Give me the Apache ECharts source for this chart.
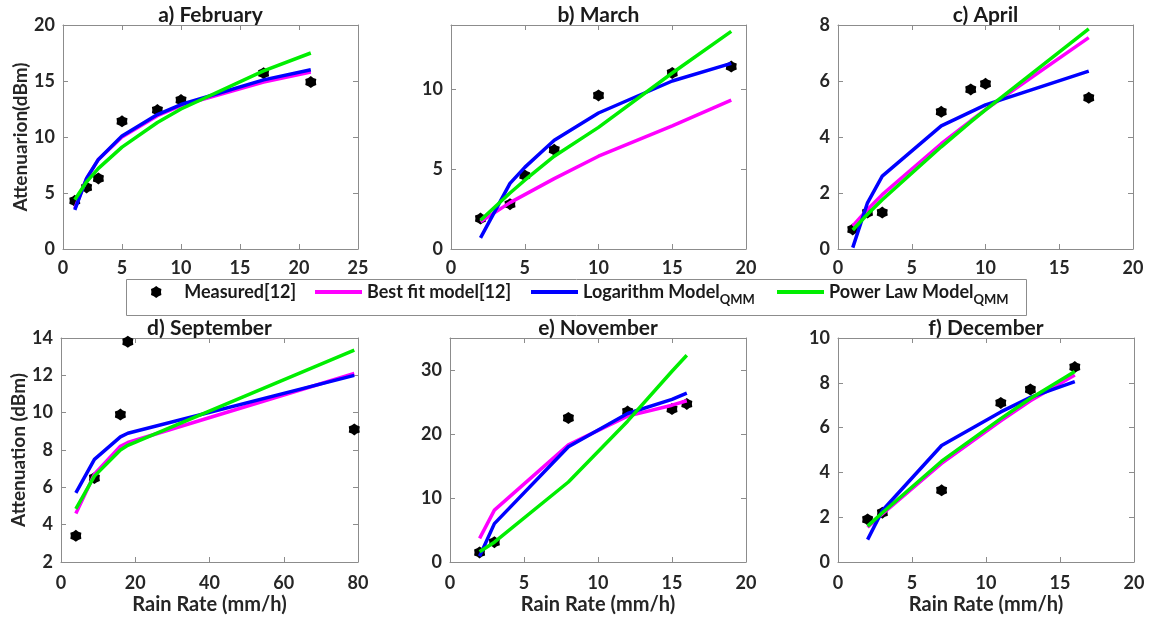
<!DOCTYPE html>
<html>
<head>
<meta charset="utf-8">
<script src="https://cdn.jsdelivr.net/npm/echarts@6/dist/echarts.min.js"></script>
<style>
  html, body { margin: 0; padding: 0; background: #ffffff; }
  #chart { width: 1150px; height: 620px; }
</style>
</head>
<body>
<div id="chart"></div>
<script>
// Rain rate (mm/h) and attenuation (dBm) per month
const febRain     = [1, 2, 3, 5, 8, 10, 17, 21];
const febMeasured = [4.3, 5.5, 6.3, 11.4, 12.4, 13.3, 15.7, 14.9];
const febBestFit  = [3.6, 6.3, 8.0, 10.0, 11.9, 12.8, 14.9, 15.8];
const febLog      = [3.5, 6.3, 8.0, 10.1, 12.0, 12.9, 15.1, 16.0];
const febPower    = [4.4, 6.0, 7.2, 9.1, 11.3, 12.5, 15.9, 17.5];

const marRain     = [2, 4, 5, 7, 10, 15, 19];
const marMeasured = [1.9, 2.8, 4.6, 6.2, 9.6, 11.0, 11.4];
const marBestFit  = [1.7, 2.9, 3.4, 4.4, 5.8, 7.7, 9.3];
const marLog      = [0.7, 4.1, 5.1, 6.8, 8.5, 10.5, 11.6];
const marPower    = [1.8, 3.5, 4.3, 5.8, 7.6, 11.0, 13.6];

const aprRain     = [1, 2, 3, 7, 9, 10, 17];
const aprMeasured = [0.7, 1.3, 1.3, 4.9, 5.7, 5.9, 5.4];
const aprBestFit  = [0.82, 1.41, 1.94, 3.76, 4.58, 4.98, 7.55];
const aprLog      = [0.05, 1.65, 2.6, 4.4, 4.9, 5.15, 6.35];
const aprPower    = [0.68, 1.24, 1.76, 3.65, 4.54, 4.97, 7.86];

const sepRain     = [4, 9, 16, 18, 79];
const sepMeasured = [3.4, 6.5, 9.9, 13.8, 9.1];
const sepBestFit  = [4.6, 6.7, 8.2, 8.4, 12.1];
const sepLog      = [5.7, 7.5, 8.7, 8.9, 12.0];
const sepPower    = [4.85, 6.6, 8.0, 8.25, 13.35];

const novRain     = [2, 3, 8, 12, 15, 16];
const novMeasured = [1.5, 3.1, 22.5, 23.5, 23.9, 24.7];
const novBestFit  = [3.7, 8.1, 18.3, 22.8, 24.5, 25.2];
const novLog      = [0.9, 6.0, 18.0, 23.2, 25.4, 26.4];
const novPower    = [1.6, 3.1, 12.5, 22.0, 29.8, 32.3];

const decRain     = [2, 3, 7, 11, 13, 16];
const decMeasured = [1.9, 2.2, 3.2, 7.1, 7.7, 8.7];
const decBestFit  = [1.55, 2.15, 4.4, 6.3, 7.2, 8.35];
const decLog      = [1.0, 2.3, 5.2, 6.7, 7.35, 8.05];
const decPower    = [1.6, 2.2, 4.5, 6.4, 7.3, 8.5];

// Panel titles and axis ranges
const panelTitles = ['a) February', 'b) March', 'c) April', 'd) September', 'e) November', 'f) December'];
const xMaxs      = [25, 20, 20, 80, 20, 20];
const xIntervals = [5, 5, 5, 20, 5, 5];
const yMins      = [0, 0, 0, 2, 0, 0];
const yMaxs      = [20, 14, 8, 14, 35, 10];
const yIntervals = [5, 5, 2, 2, 10, 2];
const yNames     = ['Attenuarion(dBm)', '', '', 'Attenuation (dBm)', '', ''];
const xNames     = ['', '', '', 'Rain Rate (mm/h)', 'Rain Rate (mm/h)', 'Rain Rate (mm/h)'];

const seriesNames = ['Measured[12]', 'Best fit model[12]', 'Logarithm Model_QMM', 'Power Law Model_QMM'];

const panels = [
  [febRain, febMeasured, febBestFit, febLog, febPower],
  [marRain, marMeasured, marBestFit, marLog, marPower],
  [aprRain, aprMeasured, aprBestFit, aprLog, aprPower],
  [sepRain, sepMeasured, sepBestFit, sepLog, sepPower],
  [novRain, novMeasured, novBestFit, novLog, novPower],
  [decRain, decMeasured, decBestFit, decLog, decPower]
];

// Plot boxes: [left, top, width, height]
const boxes = [
  [63, 25, 295, 224], [451, 25, 295, 224], [838, 25, 295, 224],
  [61, 338, 297, 224], [450, 338, 296, 224], [838, 338, 296, 224]
];

const FONT = 'Lato, "Open Sans", sans-serif';
const TEXT = '#262626';
const FRAME = '#8c8c8c';
// filled six-pointed marker
const STAR = 'path://M50 0 L70 15.4 L93.3 25 L90 50 L93.3 75 L70 84.6 L50 100 L30 84.6 L6.7 75 L10 50 L6.7 25 L30 15.4 Z';
const BAR = 'path://M0 0 H48 V4 H0 Z';
const lineColors = ['#ff00ff', '#0000ff', '#00ee00'];

const pairs = (xs, ys) => xs.map((x, i) => [x, ys[i]]);

const grid = [], xAxis = [], yAxis = [], series = [], graphic = [];

boxes.forEach((b, i) => {
  grid.push({ left: b[0], top: b[1], width: b[2], height: b[3], containLabel: false, outerBoundsMode: 'none' });
  const bottomRow = i >= 3;
  const frameLine = { show: true, onZero: false, lineStyle: { color: FRAME, width: 1 } };
  const ticks = { show: true, inside: true, length: 5, lineStyle: { color: FRAME, width: 1 } };
  const labelStyle = { color: TEXT, fontFamily: FONT, fontWeight: 'bold', fontSize: 18 };

  xAxis.push({
    gridIndex: i, type: 'value', position: 'bottom',
    min: 0, max: xMaxs[i], interval: xIntervals[i],
    axisLine: frameLine, axisTick: ticks, splitLine: { show: false },
    axisLabel: Object.assign({ margin: bottomRow ? 12 : 10 }, labelStyle),
    name: xNames[i], nameLocation: 'middle', nameGap: 33,
    nameTextStyle: { color: TEXT, fontFamily: FONT, fontWeight: 'bold', fontSize: 20 }
  });
  xAxis.push({
    gridIndex: i, type: 'value', position: 'top',
    min: 0, max: xMaxs[i], interval: xIntervals[i],
    axisLine: frameLine, axisTick: ticks, splitLine: { show: false },
    axisLabel: { show: false }
  });
  yAxis.push({
    gridIndex: i, type: 'value', position: 'left',
    min: yMins[i], max: yMaxs[i], interval: yIntervals[i],
    axisLine: frameLine, axisTick: ticks, splitLine: { show: false },
    axisLabel: Object.assign({ margin: 8, showMaxLabel: yMaxs[i] % yIntervals[i] === 0 }, labelStyle),
    name: yNames[i], nameLocation: 'middle', nameGap: 31,
    nameTextStyle: { color: TEXT, fontFamily: FONT, fontWeight: 'bold', fontSize: 19 }
  });
  yAxis.push({
    gridIndex: i, type: 'value', position: 'right',
    min: yMins[i], max: yMaxs[i], interval: yIntervals[i],
    axisLine: frameLine, axisTick: ticks, splitLine: { show: false },
    axisLabel: { show: false }
  });

  const [rain, measured, bestFit, logM, powerM] = panels[i];
  series.push({
    name: seriesNames[0], type: 'scatter', xAxisIndex: 2 * i, yAxisIndex: 2 * i,
    data: pairs(rain, measured), symbol: STAR, symbolSize: [11, 12],
    itemStyle: { color: '#000000', opacity: 1 }, z: 1, silent: true
  });
  [bestFit, logM, powerM].forEach((vals, k) => {
    series.push({
      name: seriesNames[k + 1], type: 'line', xAxisIndex: 2 * i, yAxisIndex: 2 * i,
      data: pairs(rain, vals), symbol: 'none', showSymbol: false,
      lineStyle: { color: lineColors[k], width: 3.5 }, itemStyle: { color: lineColors[k] },
      z: 2 + k, silent: true
    });
  });

  graphic.push({
    type: 'text', x: b[0] + b[2] / 2, y: bottomRow ? 328 : 15,
    style: { text: panelTitles[i], textAlign: 'center', textVerticalAlign: 'middle',
             font: 'bold 21px ' + FONT, fill: '#1a1a1a' }
  });
});

// Legend frame
graphic.push({
  type: 'rect', shape: { x: 126.5, y: 279.5, width: 900, height: 36 },
  style: { fill: '#ffffff', stroke: '#8c8c8c', lineWidth: 1 }, z: -1
});

const legendText = {
  color: '#1a1a1a', fontFamily: FONT, fontWeight: 'bold', fontSize: 18,
  rich: {
    m: { fontFamily: FONT, fontWeight: 'bold', fontSize: 18, color: '#1a1a1a', lineHeight: 20 },
    s: { fontFamily: FONT, fontWeight: 'bold', fontSize: 13, color: '#1a1a1a', padding: [16, 0, 0, 0] }
  }
};
const legendFormatter = name => {
  const parts = name.split('_');
  return parts.length > 1 ? '{m|' + parts[0] + '}{s|' + parts[1] + '}' : '{m|' + name + '}';
};
// one legend entry per slot along the frame
const legendSlots = [151, 315, 531, 777];
const legend = seriesNames.map((name, k) => ({
  left: legendSlots[k], top: 283, padding: 0,
  itemWidth: k === 0 ? 46 : 47, itemHeight: 12, itemGap: 0,
  data: [{ name, icon: k === 0 ? STAR : BAR }],
  formatter: legendFormatter, textStyle: legendText
}));

const chart = echarts.init(document.getElementById('chart'), null, { renderer: 'canvas' });
chart.setOption({
  animation: false,
  backgroundColor: '#ffffff',
  grid, xAxis, yAxis, series, graphic, legend
});
</script>
</body>
</html>
